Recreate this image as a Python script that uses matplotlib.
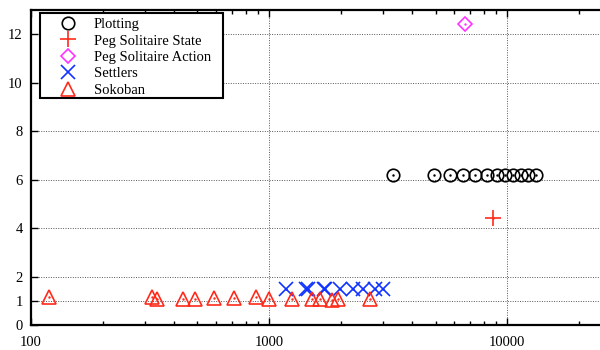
import matplotlib
matplotlib.use("Agg")
import matplotlib.pyplot as plt
from matplotlib.patches import Rectangle
from matplotlib.ticker import FixedLocator, NullFormatter, LogLocator

plt.rcParams['font.family'] = ['Liberation Serif', 'DejaVu Serif']
plt.rcParams['font.size'] = 10.5

# time (x) vs ratio (y) per domain
plotting_x = [3310, 4930, 5760, 6530, 7340, 8240, 9080, 9810, 10600, 11450, 12250, 13240]
plotting_y = [6.18, 6.18, 6.18, 6.18, 6.18, 6.18, 6.18, 6.18, 6.18, 6.18, 6.18, 6.18]

peg_state_x = [8710]
peg_state_y = [4.42]

peg_action_x = [6620]
peg_action_y = [12.42]

settlers_x = [1180, 1430, 1450, 1700, 1720, 1975, 2260, 2490, 2790, 3020]
settlers_y = [1.48, 1.48, 1.49, 1.48, 1.49, 1.48, 1.48, 1.48, 1.48, 1.48]

sokoban_x = [119, 321, 337, 436, 489, 589, 715, 879, 1000, 1250, 1520, 1640, 1845, 1945, 2660]
sokoban_y = [1.17, 1.15, 1.07, 1.08, 1.08, 1.13, 1.13, 1.15, 1.07, 1.08, 1.08, 1.08, 1.03, 1.07, 1.07]

series = [
    ("Plotting", plotting_x, plotting_y, "o", "black", 9),
    ("Peg Solitaire State", peg_state_x, peg_state_y, "+", "#ff2a1a", 11),
    ("Peg Solitaire Action", peg_action_x, peg_action_y, "D", "#ff33ff", 7.5),
    ("Settlers", settlers_x, settlers_y, "x", "#1133ff", 10),
    ("Sokoban", sokoban_x, sokoban_y, "^", "#ff2a1a", 10),
]

W, H = 600, 350
fig = plt.figure(figsize=(6.0, 3.5), dpi=100)
ax = fig.add_axes([31 / W, 25 / H, 571 / W, 315 / H])

for label, xs, ys, mk, col, ms in series:
    ax.plot(xs, ys, linestyle="none", marker=mk, markersize=ms,
            markerfacecolor="none", markeredgecolor=col, markeredgewidth=1.2,
            label=label)
    ax.plot(xs, ys, linestyle="none", marker=".", markersize=1.5, color=col)

ax.set_xscale("log")
ax.set_xlim(100, 25000)
ax.set_ylim(0, 13)
ax.yaxis.set_major_locator(FixedLocator([0, 1, 2, 4, 6, 8, 10, 12]))
ax.xaxis.set_major_locator(FixedLocator([100, 1000, 10000]))
ax.xaxis.set_minor_locator(LogLocator(base=10, subs=range(2, 10)))
ax.xaxis.set_minor_formatter(NullFormatter())
ax.set_xticklabels(["100", "1000", "10000"])

ax.tick_params(which="both", direction="in", top=True, right=False)
ax.tick_params(which="major", length=5, width=1, pad=8)
ax.tick_params(which="minor", length=3, width=1)
ax.tick_params(axis="y", pad=6)

ax.grid(True, which="major", linestyle=(0, (1, 1.5)), color="#555555", linewidth=0.7)
for s in ["left", "bottom", "top"]:
    ax.spines[s].set_linewidth(1.6)
ax.spines["right"].set_visible(False)

# legend without its own frame, box drawn separately behind it
leg = ax.legend(loc="upper left", bbox_to_anchor=(51 / W, 1 - 15 / H),
                bbox_transform=fig.transFigure, frameon=False,
                borderpad=0.2, handlelength=1.92, handletextpad=0.82,
                labelspacing=0.22, borderaxespad=0, fontsize=10.5)
leg.set_zorder(6)
box = Rectangle((40 / W, 1 - 98 / H), 183 / W, 85 / H, transform=fig.transFigure,
                facecolor="white", edgecolor="black", linewidth=1.5,
                zorder=5, clip_on=False)
ax.add_patch(box)

fig.savefig("out.png", dpi=100)
